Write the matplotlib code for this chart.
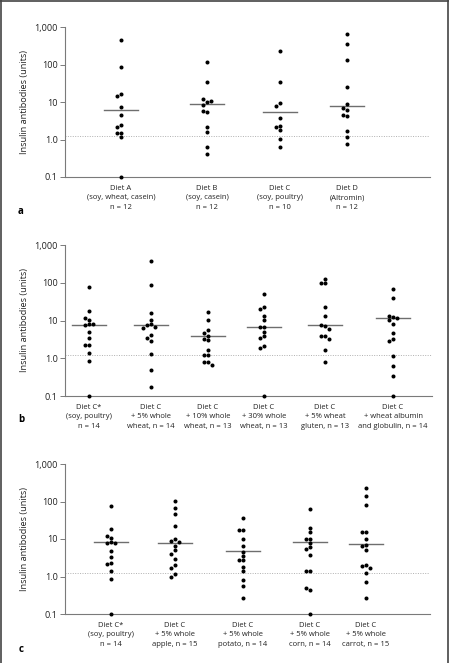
import numpy as np
import matplotlib
matplotlib.use("Agg")
import matplotlib.pyplot as plt
from matplotlib.lines import Line2D

plt.rcParams["font.family"] = ["Open Sans", "DejaVu Sans"]

# ---- panel a ----
a_labels = ["Diet A\n(soy, wheat, casein)\nn = 12",
            "Diet B\n(soy, casein)\nn = 12",
            "Diet C\n(soy, poultry)\nn = 10",
            "Diet D\n(Altromin)\nn = 12"]
a_values = [
    [443, 86.7, 16.3, 14.4, 7.5, 4.6, 2.45, 2.17, 1.47, 1.47, 1.15, 0.1],
    [120, 34.7, 10.2, 11.8, 10.8, 8.2, 5.4, 5.6, 2.17, 1.6, 0.65, 0.42],
    [235, 34, 9.6, 7.8, 3.7, 2.35, 2.2, 1.8, 1.02, 0.64],
    [652, 354, 130, 24.5, 8.85, 6.3, 7.1, 4.2, 4.5, 1.7, 1.18, 0.78],
]
a_lines = [6.0, 8.7, 5.3, 7.7]

# ---- panel b ----
b_labels = ["Diet C*\n(soy, poultry)\nn = 14",
            "Diet C\n+ 5% whole\nwheat, n = 14",
            "Diet C\n+ 10% whole\nwheat, n = 13",
            "Diet C\n+ 30% whole\nwheat, n = 13",
            "Diet C\n+ 5% wheat\ngluten, n = 13",
            "Diet C\n+ wheat albumin\nand globulin, n = 14"]
c_star = [76.7, 18.4, 10.6, 12.0, 8.2, 7.7, 8.0, 4.9, 3.4, 2.26, 2.2, 1.41, 0.85, 0.1]
b_values = [
    c_star,
    [384, 88.5, 15.7, 10.2, 7.9, 7.6, 6.8, 6.5, 4.2, 3.5, 2.9, 1.28, 0.5, 0.177],
    [16.6, 10.2, 5.5, 4.8, 4.0, 3.1, 3.2, 1.66, 1.25, 1.25, 0.80, 0.79, 0.65],
    [49, 22.1, 20.4, 12.8, 10.2, 6.8, 6.8, 5.1, 4.0, 3.4, 2.17, 1.84, 0.1],
    [128, 96, 96, 22.1, 13.3, 7.1, 7.4, 6.0, 3.9, 3.85, 3.2, 1.63, 0.78],
    [66.5, 40, 12.2, 13.3, 11.6, 10.6, 8.2, 4.7, 3.2, 2.9, 1.13, 0.61, 0.33, 0.1],
]
b_lines = [7.8, 7.4, 3.84, 6.9, 7.4, 11.3]

# ---- panel c ----
c_labels = ["Diet C*\n(soy, poultry)\nn = 14",
            "Diet C\n+ 5% whole\napple, n = 15",
            "Diet C\n+ 5% whole\npotato, n = 14",
            "Diet C\n+ 5% whole\ncorn, n = 14",
            "Diet C\n+ 5% whole\ncarrot, n = 15"]
c_values = [
    c_star,
    [101, 68.5, 47, 22.7, 10, 9.0, 8.5, 6.4, 5.0, 4.1, 2.9, 2.0, 1.69, 1.19, 0.99],
    [37, 17, 17.3, 9.8, 6.4, 4.6, 3.6, 2.7, 2.7, 1.83, 1.4, 0.79, 0.57, 0.27],
    [61.8, 20, 15, 10, 10, 8, 6, 5.5, 3.7, 1.37, 1.37, 0.45, 0.48, 0.1],
    [229, 137, 79, 15.7, 15.7, 10, 6.9, 6.6, 5.1, 1.99, 1.9, 1.65, 1.21, 0.71, 0.27],
]
c_lines = [8.1, 8.0, 4.7, 8.1, 7.2]

threshold = 1.25

# layout (pixels)
W, H = 449, 663
panels = [
    # values, lines, labels, centers(px from axis left), top, bottom, width, letter, letter_y
    (a_values, a_lines, a_labels, [56, 142, 215, 282], 27, 177, 365, "a", 211),
    (b_values, b_lines, b_labels, [24, 86, 143, 199, 260, 328], 245, 396, 367, "b", 420),
    (c_values, c_lines, c_labels, [46, 110, 178, 245, 301], 464, 614, 365, "c", 649),
]

DOT = 3.8       # dot diameter in px
GRAY = "#7a7a7a"


def swarm(vals, px_per_dec):
    """simple beeswarm: push overlapping dots sideways (px offsets)."""
    ys = np.log10(vals) * px_per_dec
    placed = []
    offs = []
    for y in ys:
        for k in [0, -1, 1, -2, 2, -3, 3]:
            x = k * DOT * 1.05
            if all((x - px) ** 2 + (y - py) ** 2 >= (DOT * 0.95) ** 2 for px, py in placed):
                break
        placed.append((x, y))
        offs.append(x)
    return np.array(offs)


fig = plt.figure(figsize=(W / 100, H / 100), dpi=100)

for values, lines, labels, centers, top, bottom, width, letter, ly in panels:
    ax = fig.add_axes([65 / W, 1 - bottom / H, width / W, (bottom - top) / H])
    ax.set_yscale("log")
    ax.set_ylim(0.1, 1000)
    ax.set_xlim(0, width)
    px_per_dec = (bottom - top) / 4

    for cx, vals, med in zip(centers, values, lines):
        offs = swarm(vals, px_per_dec)
        ax.plot(cx + offs, vals, "o", ms=2.9, color="black", mec="none",
                clip_on=False, zorder=3)
        ax.plot([cx - 17, cx + 17], [med, med], color="#6e6e6e", lw=1.0, zorder=2)

    ax.axhline(threshold, color="#b0b0b0", lw=0.7, ls=(0, (1, 1.5)), zorder=1)

    for s in ["top", "right"]:
        ax.spines[s].set_visible(False)
    for s in ["left", "bottom"]:
        ax.spines[s].set_color(GRAY)
        ax.spines[s].set_linewidth(0.8)

    ax.set_yticks([0.1, 1, 10, 100, 1000])
    ax.set_yticklabels(["0.1", "1.0", "10", "100", "1,000"])
    ax.yaxis.set_minor_locator(matplotlib.ticker.NullLocator())
    ax.tick_params(axis="y", length=3.3, width=0.7, color=GRAY, pad=2,
                   labelsize=6.6, labelcolor="#222222")
    ax.set_xticks(centers)
    ax.set_xticklabels(labels, fontsize=5.5, linespacing=1.55, color="#222222")
    ax.tick_params(axis="x", length=0, pad=5.5)

    ax.set_ylabel("Insulin antibodies (units)", fontsize=6.6, color="#222222")
    ax.yaxis.set_label_coords(-36 / width, 0.5)

    fig.text(21 / W, 1 - ly / H, letter, fontsize=7, fontweight="bold",
             ha="center", va="center")

# frame around the figure (left, top, right)
for xs, ys in [([0.5, 0.5], [0, H]), ([0, W], [H - 0.5, H - 0.5]), ([W - 1, W - 1], [0, H])]:
    fig.add_artist(Line2D([x / W for x in xs], [y / H for y in ys],
                          color="#444444", lw=1.2, transform=fig.transFigure))

fig.savefig("out.png", dpi=100)
